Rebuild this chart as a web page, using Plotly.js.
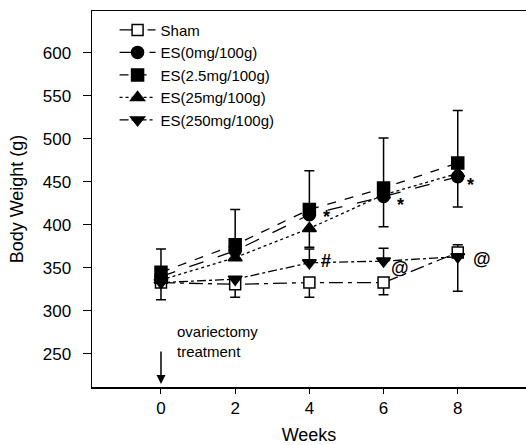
<!DOCTYPE html>
<html><head><meta charset="utf-8">
<script src="https://cdn.plot.ly/plotly-3.0.1.min.js"></script>
<style>html,body{margin:0;padding:0;background:#fff}#chart{width:526px;height:445px}</style>
</head><body><div id="chart"></div>
<script>
const weeks = [0, 2, 4, 6, 8];
const seriesNames = ["Sham", "ES(0mg/100g)", "ES(2.5mg/100g)", "ES(25mg/100g)", "ES(250mg/100g)"];
const sham   = [333, 331, 333, 333, 368];
const es0    = [340, 370, 412, 433, 456];
const es25   = [345, 377, 418, 443, 472];
const es250  = [336, 362, 396, 435, 460];
const es2500 = [333, 337, 356, 358, 363];
// error bars (plus / minus)
const shamErrPlus   = [0, 0, 0, 0, 9];
const shamErrMinus  = [20, 15, 17, 14, 0];
const es0ErrPlus    = [0, 0, 0, 0, 0];
const es0ErrMinus   = [0, 0, 0, 35, 35];
const es25ErrPlus   = [27, 41, 45, 58, 61];
const es25ErrMinus  = [0, 0, 0, 0, 0];
const es250ErrPlus  = [0, 0, 0, 0, 0];
const es250ErrMinus = [0, 0, 22, 0, 0];
const es2500ErrPlus = [0, 0, 16, 15, 0];
const es2500ErrMinus= [0, 0, 0, 0, 40];
// significance marks
const markX = [4.45, 6.45, 8.35, 4.45, 6.45, 8.65];
const markY = [409, 423, 446, 358, 350, 360];
const markText = ["*", "*", "*", "#", "@", "@"];

const vals = [sham, es0, es25, es250, es2500];
const plus = [shamErrPlus, es0ErrPlus, es25ErrPlus, es250ErrPlus, es2500ErrPlus];
const minus = [shamErrMinus, es0ErrMinus, es25ErrMinus, es250ErrMinus, es2500ErrMinus];
const symbols = ["square", "circle", "square", "triangle-up", "triangle-down"];
const dashes = ["14px,5px,4px,5px", "longdash", "dash", "dot", "dashdot"];

const traces = vals.map((v, i) => ({
  x: weeks, y: v, name: seriesNames[i], type: "scatter", mode: "lines+markers",
  line: {color: "#000", width: 1.3, dash: dashes[i]},
  marker: {symbol: symbols[i], size: i === 0 ? 11 : 12, color: i === 0 ? "#fff" : "#000", line: {color: "#000", width: 1.5}},
  error_y: {type: "data", symmetric: false, array: plus[i], arrayminus: minus[i], color: "#000", thickness: 1.5, width: 5}
}));

const ann = markText.map((t, i) => ({x: markX[i], y: markY[i], text: "<b>" + t + "</b>", showarrow: false,
  font: {family: "Arial, Liberation Sans", size: 18, color: "#000"}}));
ann.push({x: 0, y: 215, ax: 0, ay: -34, text: "", showarrow: true, arrowhead: 2, arrowsize: 1.2, arrowwidth: 1.5, arrowcolor: "#000"});
ann.push({x: 0.38, y: 288, xanchor: "left", yanchor: "top", align: "left", text: "ovariectomy<br>treatment", showarrow: false,
  font: {family: "Arial, Liberation Sans", size: 15, color: "#000"}});

const layout = {
  width: 526, height: 445,
  margin: {l: 92, r: 0, t: 11, b: 58},
  paper_bgcolor: "#fff", plot_bgcolor: "#fff",
  font: {family: "Arial, Liberation Sans", color: "#000", size: 16},
  showlegend: true,
  legend: {x: 0.052, y: 0.993, xanchor: "left", yanchor: "top", bgcolor: "rgba(0,0,0,0)",
    font: {size: 15}, tracegroupgap: 0, itemwidth: 36},
  xaxis: {range: [-1.86, 9.84], tickvals: weeks, ticks: "outside", ticklen: 5, tickcolor: "#000",
    showline: true, linecolor: "#000", linewidth: 1.5, mirror: true, showgrid: false, zeroline: false,
    title: {text: "Weeks", standoff: 11, font: {size: 18}}, tickfont: {size: 17}},
  yaxis: {range: [211.6, 648.8], tickvals: [250, 300, 350, 400, 450, 500, 550, 600], ticks: "outside", ticklen: 8, tickcolor: "#000",
    showline: true, linecolor: "#000", linewidth: 1.5, showgrid: false, zeroline: false, ticklabelstandoff: 8,
    title: {text: "Body Weight (g)", standoff: 14, font: {size: 18}}, tickfont: {size: 17}},
  annotations: ann
};
Plotly.newPlot("chart", traces, layout, {displayModeBar: false, staticPlot: true});
</script></body></html>
